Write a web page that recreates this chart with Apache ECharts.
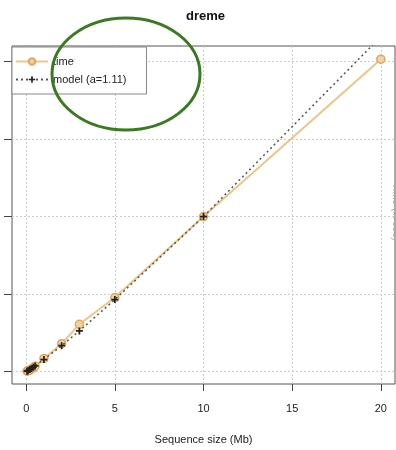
<!DOCTYPE html>
<html>
<head>
<meta charset="utf-8">
<script src="https://cdn.jsdelivr.net/npm/echarts@6/dist/echarts.min.js"></script>
<style>
  html, body { margin: 0; padding: 0; background: #fff; }
  #chart { width: 396px; height: 450px; }
</style>
</head>
<body>
<div id="chart"></div>
<script>
// sequence sizes (Mb)
const seqSize = [0.05, 0.1, 0.2, 0.3, 0.4, 0.5, 1, 2, 3, 5, 10, 20]
// measured run time
const timeVals = [0.005, 0.01, 0.02, 0.035, 0.05, 0.07, 0.17, 0.36, 0.61, 0.955, 2.0, 4.03]
// fitted model (a=1.11)
const modelVals = [0.006, 0.012, 0.026, 0.041, 0.057, 0.073, 0.155, 0.335, 0.525, 0.93, 2.0, 4.32]
const xTicks = [0, 5, 10, 15, 20]
const yTicks = [0, 1, 2, 3, 4]

const font = 'Liberation Sans, Arial, sans-serif'
const chart = echarts.init(document.getElementById('chart'))

const pairs = (xs, ys) => xs.map((x, i) => [x, ys[i]])

const option = {
  animation: false,
  title: {
    text: 'dreme',
    left: 181,
    top: 5,
    textStyle: { fontFamily: font, fontSize: 13, fontWeight: 'bold', color: '#111' }
  },
  grid: {
    left: 12,
    right: 1,
    top: 46,
    bottom: 66,
    show: true,
    borderColor: '#555',
    borderWidth: 1
  },
  legend: {
    orient: 'vertical',
    left: 12,
    top: 47,
    itemWidth: 32,
    itemHeight: 8,
    itemGap: 7,
    padding: [9, 20, 9, 3],
    backgroundColor: '#fff',
    borderColor: '#888',
    borderWidth: 1,
    textStyle: { fontFamily: font, fontSize: 11, color: '#222' },
    data: ['time', 'model (a=1.11)']
  },
  xAxis: {
    type: 'value',
    min: -0.8,
    max: 20.8,
    splitNumber: 5,
    name: 'Sequence size (Mb)',
    nameLocation: 'middle',
    nameGap: 50,
    nameTextStyle: { fontFamily: font, fontSize: 11, color: '#222' },
    axisLine: { show: false, onZero: false },
    axisTick: { show: true, length: 7, customValues: xTicks, lineStyle: { color: '#444' } },
    axisLabel: {
      customValues: xTicks,
      margin: 19,
      fontFamily: font,
      fontSize: 11,
      color: '#222'
    },
    splitLine: { show: true, lineStyle: { color: '#ccc', type: [2, 2] } }
  },
  yAxis: {
    type: 'value',
    min: -0.16,
    max: 4.2,
    splitNumber: 5,
    axisLine: { show: false, onZero: false },
    axisTick: { show: true, length: 8, customValues: yTicks, lineStyle: { color: '#444' } },
    axisLabel: { show: false },
    splitLine: { show: true, lineStyle: { color: '#ccc', type: [2, 2] } }
  },
  series: [
    {
      name: 'time',
      type: 'line',
      data: pairs(seqSize, timeVals),
      symbol: 'circle',
      symbolSize: 8,
      lineStyle: { color: '#efc487', width: 2 },
      itemStyle: { color: '#f3d3a6', borderColor: '#e3a65a', borderWidth: 1.5 },
      z: 2
    },
    {
      name: 'model (a=1.11)',
      type: 'line',
      data: pairs(seqSize, modelVals),
      symbol: 'path://M3,0h2v3h3v2h-3v3h-2v-3h-3v-2h3z',
      symbolSize: 7,
      lineStyle: { color: '#555', width: 1.5, type: [2, 3] },
      itemStyle: { color: '#222' },
      z: 3
    }
  ],
  graphic: [
    {
      type: 'text',
      x: 396,
      y: 212,
      rotation: -Math.PI / 2,
      style: {
        text: 'Time (in sec)',
        fontFamily: font,
        fontSize: 10,
        fill: '#aaa',
        align: 'center',
        verticalAlign: 'middle'
      }
    },
    {
      type: 'ellipse',
      shape: { cx: 126, cy: 74, rx: 74, ry: 56 },
      style: { fill: null, stroke: '#3b7a23', lineWidth: 3 },
      z: 100
    }
  ]
}

chart.setOption(option)
</script>
</body>
</html>
